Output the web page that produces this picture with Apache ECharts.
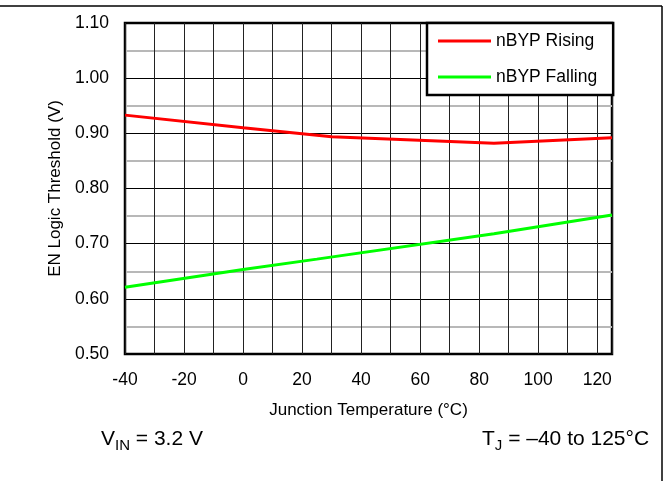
<!DOCTYPE html>
<html>
<head>
<meta charset="utf-8">
<script src="https://cdn.jsdelivr.net/npm/echarts@6/dist/echarts.min.js"></script>
<style>
html,body{margin:0;padding:0;background:#fff;}
#chart{width:669px;height:481px;}
</style>
</head>
<body>
<div id="chart"></div>
<script>
// Data
var temps = [-40, 0, 30, 85, 125];
var risingValues = [0.933, 0.910, 0.894, 0.882, 0.892];
var fallingTemps = [-40, 0, 25, 85, 125];
var fallingValues = [0.621, 0.653, 0.672, 0.718, 0.752];
var seriesNames = ['nBYP Rising', 'nBYP Falling'];
var xName = 'Junction Temperature (°C)';
var yName = 'EN Logic Threshold (V)';

var FONT = '"Liberation Sans", Arial, sans-serif';

function pairs(xs, ys) { return xs.map(function (x, i) { return [x, ys[i]]; }); }

var chart = echarts.init(document.getElementById('chart'), null, {renderer: 'canvas'});
chart.setOption({
  animation: false,
  backgroundColor: '#fff',
  textStyle: {fontFamily: FONT},
  grid: {left: 125, right: 57, top: 23, bottom: 127, show: true, borderColor: '#000', borderWidth: 2.5, backgroundColor: 'transparent'},
  legend: {
    orient: 'vertical', left: 427, top: 23,
    padding: [8, 16, 8, 11], itemGap: 16,
    itemWidth: 53, itemHeight: 3, icon: 'rect',
    backgroundColor: '#fff', borderColor: '#000', borderWidth: 2.5, borderRadius: 0,
    textStyle: {fontSize: 17.5, color: '#000', fontFamily: FONT, lineHeight: 20},
    data: seriesNames
  },
  xAxis: {
    type: 'value', min: -40, max: 125, interval: 10,
    axisLine: {show: false}, axisTick: {show: false},
    axisLabel: {
      fontSize: 17.5, color: '#000', margin: 17, fontFamily: FONT,
      formatter: function (v) { return (Math.round(v) % 20 === 0) ? String(v) : ''; }
    },
    splitLine: {show: true, lineStyle: {color: '#222', width: 1}},
    name: xName, nameLocation: 'middle', nameGap: 48,
    nameTextStyle: {fontSize: 17, color: '#000', fontFamily: FONT}
  },
  yAxis: {
    type: 'value', min: 0.5, max: 1.1, interval: 0.1,
    axisLine: {show: false}, axisTick: {show: false},
    axisLabel: {fontSize: 17.5, color: '#000', margin: 16, fontFamily: FONT,
      formatter: function (v) { return v.toFixed(2); }},
    splitLine: {show: true, lineStyle: {color: '#000', width: 1.2}},
    minorTick: {show: false, splitNumber: 2},
    minorSplitLine: {show: true, lineStyle: {color: '#b8b8b8', width: 2}},
    name: yName, nameLocation: 'middle', nameGap: 60,
    nameTextStyle: {fontSize: 17, color: '#000', fontFamily: FONT}
  },
  series: [
    {name: seriesNames[0], type: 'line', data: pairs(temps, risingValues), showSymbol: false, symbol: 'none',
     lineStyle: {color: '#ff0000', width: 3}, itemStyle: {color: '#ff0000'}, z: 3},
    {name: seriesNames[1], type: 'line', data: pairs(fallingTemps, fallingValues), showSymbol: false, symbol: 'none',
     lineStyle: {color: '#00ff00', width: 3}, itemStyle: {color: '#00ff00'}, z: 3}
  ],
  graphic: [
    {type: 'line', shape: {x1: 0, y1: 6, x2: 662, y2: 6}, style: {stroke: '#000', lineWidth: 1.5}, silent: true},
    {type: 'line', shape: {x1: 662, y1: 6, x2: 662, y2: 481}, style: {stroke: '#000', lineWidth: 1.5}, silent: true},
    {type: 'text', left: 101, top: 429, silent: true,
     style: {text: '{m|V}{s|IN}{m| = 3.2 V}', fontFamily: FONT, fill: '#000',
       rich: {m: {fontSize: 21, lineHeight: 28, verticalAlign: 'middle', fontFamily: FONT},
              s: {fontSize: 15, lineHeight: 14, verticalAlign: 'bottom', fontFamily: FONT}}}},
    {type: 'text', left: 482, top: 429, silent: true,
     style: {text: '{m|T}{s|J}{m| = –40 to 125°C}', fontFamily: FONT, fill: '#000',
       rich: {m: {fontSize: 21, lineHeight: 28, verticalAlign: 'middle', fontFamily: FONT},
              s: {fontSize: 15, lineHeight: 14, verticalAlign: 'bottom', fontFamily: FONT}}}}
  ]
});
</script>
</body>
</html>
